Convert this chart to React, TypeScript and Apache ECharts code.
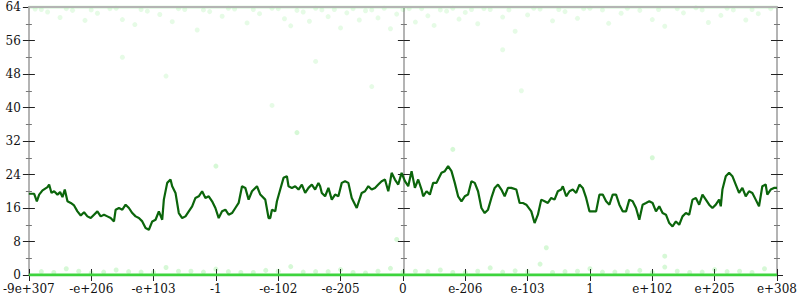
import React, { useEffect, useRef } from "react";
import * as echarts from "echarts";

const xTickLabels = ["-9e+307", "-e+206", "-e+103", "-1", "-e-102", "-e-205", "0", "e-206", "e-103", "1", "e+102", "e+205", "e+308"];

const trendX = [
  0.000, 0.085, 0.128, 0.165, 0.219, 0.299, 0.325, 0.363, 0.405, 0.459, 0.501, 0.539, 0.576, 0.619, 0.672, 0.725, 0.779, 0.832, 0.885, 0.939,
  0.992, 1.045, 1.099, 1.152, 1.205, 1.259, 1.312, 1.365, 1.392, 1.445, 1.499, 1.552, 1.605, 1.659, 1.712, 1.765, 1.819, 1.872, 1.925, 1.979,
  2.032, 2.085, 2.139, 2.165, 2.219, 2.272, 2.299, 2.352, 2.405, 2.459, 2.512, 2.565, 2.619, 2.672, 2.725, 2.779, 2.832, 2.885, 2.939, 2.992,
  3.045, 3.099, 3.152, 3.205, 3.259, 3.312, 3.365, 3.419, 3.472, 3.525, 3.579, 3.659, 3.712, 3.792, 3.845,
  3.872, 3.899, 3.952, 3.979, 4.032, 4.085, 4.139, 4.165, 4.219, 4.272, 4.325, 4.379, 4.432, 4.485, 4.539, 4.592, 4.645, 4.672, 4.699, 4.752,
  4.805, 4.859, 4.912, 4.965, 5.019, 5.072, 5.125, 5.179, 5.259, 5.285, 5.339, 5.392, 5.445, 5.499, 5.552, 5.605, 5.659, 5.712, 5.765, 5.792,
  5.819, 5.872, 5.925, 5.979, 6.032, 6.085, 6.139, 6.192, 6.245, 6.299, 6.325, 6.379, 6.432, 6.485, 6.539, 6.565, 6.619, 6.672, 6.725, 6.779,
  6.832, 6.885, 6.939, 6.992, 7.045, 7.099, 7.152, 7.205, 7.259, 7.312, 7.365, 7.419, 7.472, 7.525, 7.579, 7.632, 7.685, 7.739, 7.819, 7.872,
  7.925, 7.979, 8.059, 8.112, 8.165,
  8.219, 8.272, 8.325, 8.379, 8.432, 8.485, 8.539, 8.565, 8.619, 8.672, 8.725, 8.779, 8.832, 8.885, 8.939, 8.992, 9.045, 9.099, 9.152, 9.205,
  9.259, 9.312, 9.365, 9.419, 9.472, 9.525, 9.579, 9.632, 9.685, 9.739, 9.792, 9.845, 9.899, 9.952, 10.005, 10.059, 10.112, 10.165, 10.219, 10.272,
  10.325, 10.379, 10.432, 10.485, 10.539, 10.592, 10.645, 10.699, 10.752, 10.805, 10.859, 10.912, 10.965, 11.019, 11.072, 11.099, 11.125, 11.179, 11.232, 11.285,
  11.339, 11.392, 11.445, 11.499, 11.552, 11.605, 11.659, 11.712, 11.765, 11.819, 11.845, 11.899, 11.952, 12.0,
];

const trendY = [
  19.4, 19.4, 17.6, 19.2, 20.2, 21.0, 21.6, 19.6, 20.0, 19.2, 19.8, 18.6, 20.4, 17.6, 17.2, 16.6, 15.2, 14.2, 15.0, 14.0,
  13.6, 14.4, 15.2, 14.0, 14.4, 14.0, 13.6, 12.8, 15.6, 16.0, 15.6, 16.8, 16.0, 14.8, 14.0, 13.6, 12.8, 11.2, 10.8, 12.8,
  13.2, 15.2, 13.2, 18.0, 22.0, 22.8, 21.2, 19.6, 14.8, 13.6, 14.0, 15.2, 16.4, 18.4, 18.8, 20.0, 18.4, 18.8, 17.6, 16.0,
  13.6, 15.2, 15.6, 14.4, 14.8, 16.0, 17.2, 21.2, 20.8, 18.0, 20.0, 21.2, 19.2, 18.0, 13.6,
  13.6, 15.6, 15.2, 17.6, 20.4, 23.2, 23.6, 21.2, 20.8, 21.2, 20.4, 21.6, 19.6, 20.8, 21.6, 20.4, 22.0, 21.2, 19.6, 18.8,
  20.8, 18.0, 19.2, 18.8, 22.0, 22.4, 22.0, 18.4, 16.0, 17.2, 19.6, 20.0, 21.2, 20.4, 20.8, 21.6, 22.4, 22.8, 20.0, 22.0,
  24.4, 22.8, 21.6, 24.4, 22.4, 21.2, 24.8, 20.8, 22.8, 20.4, 18.8, 20.0, 19.2, 22.0, 22.0, 22.8, 24.4, 24.8, 26.0, 24.8,
  22.0, 18.8, 17.6, 18.8, 19.2, 22.4, 22.0, 20.0, 16.0, 14.8, 15.6, 18.4, 20.8, 21.6, 20.4, 18.8, 20.8, 20.8, 20.4, 17.2,
  17.2, 16.8, 15.2, 12.4, 14.4,
  18.0, 17.6, 17.2, 18.4, 18.0, 20.0, 20.4, 21.2, 18.8, 20.0, 20.4, 19.6, 21.6, 20.8, 18.4, 15.2, 15.2, 15.2, 19.2, 19.2,
  17.6, 16.8, 19.2, 19.2, 16.8, 15.2, 15.2, 18.0, 17.6, 16.0, 13.2, 16.8, 17.2, 17.6, 17.2, 15.2, 16.4, 14.8, 14.4, 12.4,
  11.6, 12.8, 12.0, 14.0, 14.8, 14.4, 18.0, 18.4, 16.8, 19.2, 18.0, 16.8, 16.0, 16.8, 18.0, 16.4, 20.4, 23.6, 24.4, 23.6,
  21.6, 19.6, 20.8, 18.8, 20.0, 19.6, 18.0, 16.4, 21.2, 21.6, 19.2, 20.4, 20.8, 20.8,
];

const highDots: [number, number][] = [
  [0.1, 63.5], [0.3, 62.8], [0.5, 61.5], [0.7, 63.2], [0.9, 60.8], [1.1, 62.5], [1.3, 63.6], [1.5, 61.0], [1.7, 59.8], [1.9, 63.0],
  [2.1, 62.2], [2.3, 60.5], [2.5, 63.4], [2.7, 58.5], [2.9, 62.9], [3.1, 61.8], [3.3, 63.5], [3.5, 60.2], [3.7, 62.4], [3.9, 63.7],
  [4.1, 61.2], [4.2, 59.5], [4.4, 62.8], [4.5, 60.6], [4.7, 63.3], [4.8, 61.7], [5.0, 59.0], [5.1, 62.6], [5.3, 60.9], [5.4, 63.1],
  [5.6, 61.4], [5.8, 58.8], [5.9, 62.3], [6.1, 63.6], [6.2, 60.4], [6.4, 61.9], [6.5, 59.6], [6.7, 63.0], [6.9, 61.1], [7.0, 62.7],
  [7.2, 60.0], [7.4, 63.4], [7.6, 61.6], [7.8, 58.2], [8.0, 62.1], [8.2, 63.5], [8.4, 60.7], [8.6, 62.9], [8.8, 61.3], [9.0, 63.7],
  [9.3, 60.1], [9.5, 62.5], [9.8, 63.2], [10.0, 61.0], [10.2, 59.4], [10.5, 62.6], [10.7, 63.8], [10.9, 60.3], [11.1, 62.0], [11.3, 63.3],
  [11.5, 60.9], [11.7, 62.4], [11.9, 63.6], [2.2, 47.5], [1.5, 52.0], [4.6, 51.0], [5.5, 45.0], [7.9, 44.0], [3.9, 40.5], [7.6, 53.8],
  [0.2, 63.4], [0.6, 63.6], [1.0, 63.3], [1.4, 63.7], [1.8, 63.4], [2.4, 63.6], [2.8, 63.3], [3.2, 63.7], [3.6, 63.4], [4.0, 63.6],
  [4.3, 63.2], [4.6, 63.7], [4.9, 63.4], [5.2, 63.6], [5.5, 63.3], [5.7, 63.7], [6.0, 63.4], [6.3, 63.6], [6.6, 63.3], [6.8, 63.7],
  [7.1, 63.4], [7.3, 63.6], [7.7, 63.3], [8.1, 63.7], [8.5, 63.4], [8.9, 63.6], [9.2, 63.3], [9.6, 63.7], [10.1, 63.4], [10.4, 63.6],
  [10.8, 63.3], [11.2, 63.7], [11.6, 63.4],
];

const lowDots: [number, number][] = [
  [0.2, 0.8], [0.6, 1.5], [1.0, 0.5], [1.4, 1.2], [1.8, 0.7], [2.2, 1.8], [2.6, 0.9], [3.0, 1.4], [3.4, 0.6], [3.8, 1.1],
  [4.2, 2.0], [4.6, 0.8], [5.0, 1.3], [5.4, 0.5], [5.8, 1.6], [6.2, 0.9], [6.6, 1.2], [7.0, 0.6], [7.4, 1.7], [7.8, 1.0],
  [8.2, 2.6], [8.6, 0.8], [9.0, 1.5], [9.4, 0.7], [9.8, 1.1], [10.2, 1.9], [10.6, 0.6], [11.0, 1.3], [11.4, 0.9], [11.8, 1.5],
  [0.4, 0.6], [0.8, 0.9], [1.2, 0.7], [1.6, 0.8], [2.0, 0.6], [2.4, 0.9], [2.8, 0.7], [3.2, 0.8], [3.6, 0.6], [4.0, 0.9],
  [4.4, 0.7], [4.8, 0.8], [5.2, 0.6], [5.6, 0.9], [6.0, 0.7], [6.4, 0.8], [6.8, 0.6], [7.2, 0.9], [7.6, 0.7], [8.0, 0.8],
  [8.4, 0.6], [8.8, 0.9], [9.2, 0.7], [9.6, 0.8], [10.0, 0.6], [10.4, 0.9], [10.8, 0.7], [11.2, 0.8], [11.6, 0.6],
  [8.3, 6.5], [10.2, 4.5], [5.9, 8.5], [3.0, 26.0], [6.8, 30.0], [4.3, 34.0], [10.0, 28.0],
];

const edgeLevels = [0, 64];

export default function App() {
  const ref = useRef<HTMLDivElement>(null);
  useEffect(() => {
    if (!ref.current) return;
    const chart = echarts.init(ref.current, null, { renderer: "svg" });
    const font = "DejaVu Serif";
    const axisGray = "#b4b4b4";
    const yBase = (extra: any) => ({
      type: "value",
      min: 0,
      max: 64,
      interval: 8,
      splitLine: { show: false },
      axisLine: { show: true, onZero: false, lineStyle: { color: axisGray, width: 2 } },
      axisTick: { show: true, length: 6, lineStyle: { color: "#222", width: 1 } },
      minorTick: { show: true, splitNumber: 2, length: 3, lineStyle: { color: "#777", width: 1 } },
      axisLabel: { show: false },
      ...extra,
    });
    const xBase = (extra: any) => ({
      type: "value",
      min: 0,
      max: 12,
      interval: 1,
      splitLine: { show: false },
      axisLine: { show: true, onZero: false, lineStyle: { color: axisGray, width: 2 } },
      axisTick: { show: true, length: 6, lineStyle: { color: "#222", width: 1 } },
      axisLabel: { show: false },
      ...extra,
    });
    chart.setOption({
      animation: false,
      textStyle: { fontFamily: font },
      grid: { left: 28, right: 22, top: 7, bottom: 25, containLabel: false },
      xAxis: [
        xBase({
          position: "bottom",
          axisLabel: {
            show: true,
            margin: 8,
            color: "#111",
            fontFamily: font,
            fontSize: 12,
            formatter: (v: number) => xTickLabels[Math.round(v)] ?? "",
          },
        }),
        xBase({ position: "bottom", axisTick: { show: true, inside: true, length: 6, lineStyle: { color: "#222" } } }),
        xBase({ position: "top", axisTick: { show: false }, z: 5 }),
      ],
      yAxis: [
        yBase({
          position: "left",
          axisLabel: { show: true, margin: 8, color: "#111", fontFamily: font, fontSize: 12 },
        }),
        yBase({ position: "left", axisTick: { show: true, inside: true, length: 6, lineStyle: { color: "#222" } } }),
        yBase({ position: "left", offset: -375 }),
        yBase({ position: "left", offset: -375, axisTick: { show: true, inside: true, length: 6, lineStyle: { color: "#222" } } }),
        yBase({ position: "right" }),
        yBase({ position: "right", axisTick: { show: true, inside: true, length: 6, lineStyle: { color: "#222" } } }),
      ],
      series: [
        {
          type: "scatter",
          data: highDots,
          symbolSize: 5,
          itemStyle: { color: "#33dd33", opacity: 0.12 },
          z: 1,
        },
        {
          type: "scatter",
          data: lowDots,
          symbolSize: 5,
          itemStyle: { color: "#33dd33", opacity: 0.2 },
          z: 1,
        },
        {
          type: "line",
          data: [[0, edgeLevels[1]], [12, edgeLevels[1]]],
          symbol: "none",
          lineStyle: { color: "#66dd66", width: 3, opacity: 0.35 },
          z: 2,
        },
        {
          type: "line",
          data: [[0, edgeLevels[0]], [12, edgeLevels[0]]],
          symbol: "none",
          lineStyle: { color: "#3ed43e", width: 3 },
          z: 2,
        },
        {
          type: "line",
          data: trendX.map((x, i) => [x, trendY[i]]),
          symbol: "none",
          lineStyle: { color: "#0b650b", width: 2.2 },
          z: 3,
        },
      ],
    });
    return () => chart.dispose();
  }, []);
  return <div ref={ref} style={{ width: 800, height: 300, position: "absolute", left: 0, top: 0 }} />;
}
